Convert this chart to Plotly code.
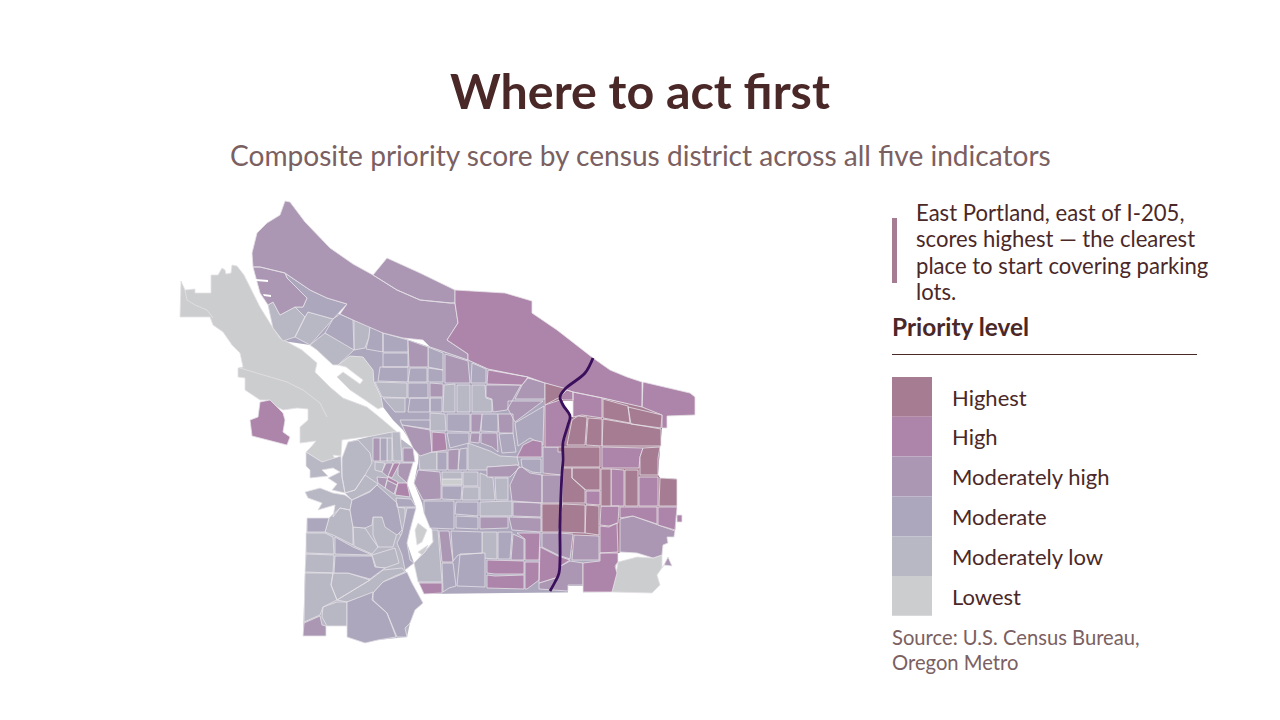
import plotly.graph_objects as go

# district outlines per priority level, in map units
LOWEST = [
    [(181,281),(185,290),(195,289),(195,293),(211,293),(211,275),(218,275),(222,268),(225,270),(226,274),(231,273),(232,265),(237,266),(244,275),(250,287),(260,307),(273,328),(280,338),(302,350),(317,363),(315,372),(330,387),(343,398),(367,407),(383,420),(397,432),(402,440),(392,432),(372,436),(342,440),(341,456),(333,455),(336,461),(322,462),(314,457),(306,452),(311,447),(316,441),(300,443),(300,427),(308,420),(308,409),(297,408),(283,410),(277,407),(270,400),(260,400),(245,390),(245,378),(238,377),(238,368),(243,367),(240,353),(232,345),(223,332),(213,325),(210,317),(180,317)],
    [(338,365),(350,356),(363,357),(373,370),(374,382),(381,397),(383,407),(378,409),(365,400),(350,390),(337,377),(343,372),(360,384),(363,380),(346,367)],
    [(442,479),(462,479),(462,485),(442,485)],
    [(418,523),(427,530),(422,542),(417,545),(415,530)],
    [(418,552),(428,545),(425,552),(422,555)],
    [(618,562),(637,557),(653,558),(662,555),(662,568),(664,565),(657,575),(660,585),(652,593),(612,592),(615,580)],
]
MOD_LOW = [
    [(273,302),(280,315),(295,307),(305,317),(295,337),(283,341),(273,328),(268,305)],
    [(305,317),(308,312),(333,319),(310,345),(295,337)],
    [(325,333),(353,347),(354,350),(338,365),(333,365),(317,350),(310,345)],
    [(354,320),(370,326),(369,337),(365,348),(354,350)],
    [(375,382),(407,383),(407,398),(382,397)],
    [(383,398),(405,398),(405,412),(395,412)],
    [(444,385),(455,384),(455,412),(443,412)],
    [(457,385),(470,385),(470,412),(457,412)],
    [(472,385),(485,385),(486,398),(492,400),(492,412),(472,412)],
    [(430,413),(445,414),(446,431),(430,431)],
    [(418,453),(437,452),(437,470),(420,470)],
    [(468,443),(490,451),(500,456),(517,457),(519,465),(487,467),(490,470),(468,470)],
    [(442,472),(462,472),(462,479),(442,479)],
    [(463,472),(478,472),(478,486),(463,486)],
    [(463,487),(479,487),(479,500),(462,500)],
    [(480,473),(493,478),(495,500),(480,500)],
    [(495,478),(508,478),(508,500),(496,500)],
    [(480,502),(512,501),(512,516),(480,516)],
    [(482,532),(497,532),(497,559),(482,558)],
    [(432,530),(438,530),(442,582),(418,582),(414,563),(425,552),(433,542)],
    [(348,442),(358,440),(370,453),(372,463),(365,475),(355,490),(345,493),(342,477),(342,458)],
    [(345,493),(355,490),(365,475),(378,484),(370,491),(352,500)],
    [(306,452),(314,457),(322,462),(341,456),(342,477),(345,493),(332,490),(337,484),(328,478),(340,472),(333,468),(322,470),(328,476),(310,478),(310,470),(306,466)],
    [(305,492),(320,488),(333,493),(345,495),(352,500),(350,510),(340,508),(333,517),(335,505),(318,510),(322,503),(308,498)],
    [(306,533),(325,533),(333,537),(334,554),(306,553)],
    [(306,554),(334,555),(333,573),(305,572)],
    [(305,573),(333,573),(331,585),(337,600),(323,607),(320,615),(304,622)],
    [(323,607),(337,602),(347,602),(347,626),(327,626),(322,617)],
    [(333,573),(348,573),(370,580),(348,593),(337,600),(331,585)],
    [(370,580),(383,570),(402,568),(405,572),(395,576),(383,582),(373,593),(347,602),(337,600)],
    [(329,518),(340,508),(350,510),(353,527),(353,545),(333,535),(325,532)],
    [(353,527),(365,528),(373,540),(378,547),(372,554),(354,546)],
    [(372,555),(395,548),(399,563),(385,568),(376,567)],
    [(373,517),(382,517),(387,527),(397,533),(393,547),(378,547),(373,535)],
    [(397,507),(405,508),(405,530),(402,537),(398,532),(395,515)],
    [(375,462),(385,463),(382,472),(375,470)],
    [(387,438),(392,438),(392,461),(387,461)],
    [(392,432),(400,432),(402,461),(393,461)],
]
MODERATE = [
    [(285,273),(310,290),(327,298),(347,304),(333,319),(308,312),(305,317),(295,307),(303,307),(307,298),(287,278)],
    [(340,314),(353,320),(354,350),(325,333),(333,319)],
    [(370,326),(383,333),(383,352),(366,349),(369,337)],
    [(383,333),(408,340),(408,352),(383,352)],
    [(383,353),(408,353),(408,367),(383,367)],
    [(380,367),(408,367),(408,382),(378,381)],
    [(410,368),(427,368),(427,382),(408,382)],
    [(428,347),(443,353),(443,370),(428,367)],
    [(428,368),(443,370),(443,382),(428,382)],
    [(408,383),(428,383),(428,398),(408,398)],
    [(410,398),(430,398),(430,412),(408,412)],
    [(430,398),(442,398),(442,412),(430,412)],
    [(400,420),(430,420),(430,429),(402,425)],
    [(472,363),(486,369),(486,383),(471,383)],
    [(447,414),(470,414),(470,432),(447,431)],
    [(482,414),(498,414),(498,432),(481,431)],
    [(447,433),(469,433),(469,443),(450,448)],
    [(499,434),(513,433),(516,452),(502,453)],
    [(515,423),(544,406),(543,445),(530,438),(518,446)],
    [(521,459),(541,459),(541,473),(532,472),(522,467)],
    [(437,452),(447,452),(447,470),(437,470)],
    [(460,449),(467,448),(467,470),(458,470)],
    [(442,486),(462,486),(461,500),(442,499)],
    [(424,501),(454,501),(454,529),(430,528),(424,513)],
    [(456,502),(478,502),(478,516),(455,514)],
    [(456,516),(478,517),(478,529),(456,528)],
    [(451,531),(482,532),(482,553),(458,555),(453,561)],
    [(460,554),(485,553),(485,587),(457,586)],
    [(442,563),(453,563),(456,586),(449,588),(443,592)],
    [(498,532),(512,532),(510,559),(498,559)],
    [(307,518),(329,518),(325,532),(307,532)],
    [(335,556),(372,556),(375,567),(385,568),(370,579),(348,573),(334,573)],
    [(335,537),(353,547),(372,555),(335,554)],
    [(347,602),(373,592),(373,600),(387,613),(396,637),(378,640),(365,643),(355,640),(347,637)],
    [(373,593),(383,582),(395,577),(407,572),(412,583),(423,603),(415,610),(410,623),(405,628),(407,637),(397,637),(387,613),(372,600)],
    [(352,500),(370,492),(377,485),(397,503),(402,530),(397,535),(385,527),(382,517),(373,517),(372,525),(365,528),(353,527),(350,510)],
    [(407,508),(416,508),(410,530),(407,543),(410,560),(414,563),(405,570),(402,555),(397,543),(402,533)],
    [(396,498),(411,499),(416,507),(397,507)],
    [(380,438),(387,438),(387,461),(380,461)],
]
MOD_HIGH = [
    [(285,201),(290,202),(305,222),(330,248),(353,264),(373,275),(397,290),(420,300),(450,303),(455,303),(458,323),(447,340),(468,354),(468,360),(430,347),(423,340),(403,338),(383,333),(353,320),(340,314),(347,304),(327,298),(310,290),(285,273),(260,267),(253,267),(252,253),(257,233),(267,223),(280,215)],
    [(373,275),(387,258),(420,273),(450,287),(455,290),(455,303),(450,303),(420,300),(397,290)],
    [(253,267),(260,267),(285,273),(287,278),(307,298),(303,307),(295,307),(280,315),(273,302),(268,305),(260,293)],
    [(408,340),(428,347),(428,367),(409,367)],
    [(430,383),(443,384),(443,397),(430,397)],
    [(445,354),(468,361),(470,383),(445,383)],
    [(486,385),(521,385),(507,410),(493,412),(492,399),(486,397)],
    [(528,378),(545,383),(545,399),(515,399),(522,385)],
    [(508,401),(543,401),(515,422),(508,409)],
    [(498,414),(513,414),(513,433),(499,433)],
    [(471,414),(482,414),(480,432),(471,432)],
    [(471,433),(480,433),(479,443),(470,442)],
    [(481,433),(497,433),(498,452),(492,447),(481,443)],
    [(543,447),(558,447),(558,452),(562,452),(561,475),(543,473)],
    [(542,475),(562,475),(562,503),(542,503)],
    [(510,485),(518,468),(522,467),(530,473),(542,475),(542,503),(512,501)],
    [(487,467),(517,465),(520,467),(510,477),(487,477)],
    [(513,502),(541,503),(541,517),(513,516)],
    [(480,517),(508,517),(508,528),(480,529)],
    [(509,517),(541,518),(541,532),(512,530)],
    [(513,534),(524,539),(524,560),(511,560)],
    [(620,519),(633,516),(675,531),(674,537),(667,537),(668,543),(663,545),(662,555),(653,558),(637,553),(620,552)],
    [(574,535),(599,536),(599,560),(572,560)],
    [(542,533),(559,533),(573,534),(570,559),(558,555),(542,547)],
    [(539,583),(558,577),(559,567),(570,561),(583,563),(583,585),(568,585),(568,591),(539,589)],
    [(664,565),(668,557),(672,566)],
    [(402,425),(430,430),(432,452),(420,456),(413,448)],
    [(418,470),(440,472),(441,485),(441,499),(423,500),(414,483)],
    [(448,450),(459,449),(458,470),(448,470)],
    [(439,531),(449,531),(453,562),(442,562)],
    [(304,623),(320,616),(322,625),(326,626),(326,636),(303,636)],
    [(373,438),(380,438),(380,461),(373,461)],
    [(403,448),(413,448),(415,462),(403,462)],
    [(386,463),(393,463),(388,477),(382,472)],
    [(398,463),(413,463),(407,483),(398,475)],
    [(377,477),(388,478),(385,488),(378,483)],
    [(387,480),(397,485),(394,494),(385,488)],
]
HIGH = [
    [(455,290),(505,293),(532,301),(532,313),(557,330),(593,358),(610,370),(627,377),(642,382),(642,407),(603,398),(573,392),(545,383),(528,377),(488,369),(468,360),(468,354),(447,340),(458,323),(455,303)],
    [(643,382),(690,393),(695,397),(695,415),(667,416),(667,428),(662,428),(662,415),(642,407)],
    [(488,370),(528,377),(522,385),(487,384)],
    [(567,390),(573,392),(573,400),(563,400),(560,397)],
    [(545,405),(560,400),(562,405),(570,415),(568,423),(563,447),(545,447)],
    [(573,392),(602,398),(602,418),(582,415),(573,417)],
    [(602,447),(643,448),(640,457),(639,468),(602,468)],
    [(586,491),(600,491),(600,505),(586,504)],
    [(611,469),(624,470),(624,506),(611,506)],
    [(639,477),(658,477),(658,506),(639,506)],
    [(601,506),(619,506),(618,523),(609,526),(600,525)],
    [(620,507),(657,507),(657,524),(633,516),(620,518)],
    [(658,507),(677,507),(675,530),(658,525)],
    [(677,515),(682,515),(682,522),(677,522)],
    [(600,526),(609,527),(617,523),(618,552),(600,553)],
    [(517,457),(523,445),(533,440),(542,442),(542,457)],
    [(517,533),(540,533),(539,560),(525,560),(525,539)],
    [(487,560),(524,561),(524,574),(495,574),(487,573)],
    [(487,575),(495,576),(524,575),(524,589),(487,588)],
    [(525,562),(539,562),(539,580),(527,589),(525,589)],
    [(540,547),(558,556),(570,560),(559,567),(558,577),(539,583)],
    [(583,563),(600,561),(600,553),(618,553),(618,562),(615,566),(617,573),(612,590),(612,592),(583,592)],
    [(432,432),(445,433),(447,450),(432,452)],
    [(419,583),(442,583),(442,593),(424,594)],
    [(394,463),(400,463),(392,478),(388,476)],
    [(388,477),(398,482),(397,485),(387,480)],
    [(398,483),(407,483),(410,497),(395,495)],
    [(260,402),(270,400),(277,407),(283,413),(285,420),(283,432),(290,437),(287,445),(252,436),(250,420),(258,417)],
]
HIGHEST = [
    [(545,383),(567,389),(560,397),(545,405)],
    [(603,399),(628,406),(630,423),(603,418)],
    [(628,407),(662,415),(661,428),(631,424)],
    [(572,420),(578,416),(587,417),(585,445),(567,445)],
    [(588,418),(602,419),(602,446),(586,445)],
    [(603,419),(630,424),(661,429),(661,446),(602,446)],
    [(563,447),(600,447),(600,467),(563,467)],
    [(643,448),(660,447),(658,458),(658,475),(640,475),(640,457)],
    [(563,468),(572,468),(572,478),(585,490),(585,503),(562,503)],
    [(572,468),(600,468),(600,490),(586,490),(572,478)],
    [(601,469),(611,469),(611,506),(601,506)],
    [(625,470),(638,470),(638,506),(625,506)],
    [(660,478),(677,479),(677,506),(659,506)],
    [(542,504),(562,504),(559,532),(542,532)],
    [(562,504),(585,505),(585,533),(559,532)],
    [(586,505),(599,506),(599,535),(585,533)],
]

# land under the districts, so the small slivers between them do not read as water
LAND_EAST = [(268,305),(273,302),(340,314),(353,320),(383,333),(403,338),(430,347),(468,360),(488,369),(545,383),(573,392),(642,407),(662,415),(662,428),(660,447),(658,475),(660,478),(677,479),(677,507),(675,531),(618,553),(612,592),(424,594),(419,583),(414,563),(433,542),(432,530),(424,513),(422,503),(414,483),(418,463),(418,453),(403,430),(393,420),(383,407),(381,397),(374,382),(373,370),(363,357),(350,356),(338,365),(333,365),(317,350),(310,345),(283,341),(273,328)]
LAND_WEST = [(307,518),(329,518),(340,508),(350,510),(352,500),(345,493),(342,477),(342,458),(348,442),(372,436),(392,432),(402,440),(413,448),(413,463),(407,483),(416,507),(407,543),(414,563),(405,570),(412,583),(423,603),(415,610),(410,623),(407,637),(378,640),(365,643),(347,637),(347,626),(326,626),(326,636),(303,636),(305,572)]
LAND_FAR_EAST = [(545,383),(573,392),(642,407),(662,415),(662,428),(660,447),(658,475),(660,478),(677,479),(677,507),(675,531),(618,553),(600,553),(542,547)]
POCKETS = [[(563,401),(573,401),(573,417),(571,417),(563,405)], [(568,586),(583,586),(583,593),(568,593)]]
DOCKS = [[(255,279),(268,280),(268,282),(256,281)], [(263,294),(271,295),(271,297),(264,296)]]

# I-205 and the thin lines inside the West Hills block
I205_X = [593,585,565,560,563,570,568,563,563,562,560,559,555,550]
I205_Y = [358,373,389,397,405,416,425,443,460,473,523,573,582,591]
HILLS_X = [240,287,303,320,327,None,185,187,195,207,213]
HILLS_Y = [368,382,390,403,417,None,290,300,305,310,318]

LEVELS = ["Highest", "High", "Moderately high", "Moderate", "Moderately low", "Lowest"]
COLORS = ["#a67c92", "#ae85aa", "#ab97b4", "#aca7bd", "#b8b8c5", "#cccdce"]
NOTE = ["East Portland, east of I-205,", "scores highest \u2014 the clearest",
        "place to start covering parking", "lots."]
SOURCE = ["Source: U.S. Census Bureau,", "Oregon Metro"]

DARK = "#4b2828"
MUTED = "#7b6061"
BORDER = "#e4e1e6"
FONT = "Lato"


def to_xy(polygons):
    xs, ys = [], []
    for poly in polygons:
        xs += [p[0] for p in poly] + [poly[0][0], None]
        ys += [p[1] for p in poly] + [poly[0][1], None]
    return xs, ys


def add_plain(polys, color):
    xs, ys = to_xy(polys)
    fig.add_trace(go.Scatter(x=xs, y=ys, mode="lines", fill="toself", fillcolor=color, line=dict(color=color, width=0), hoverinfo="skip"))


fig = go.Figure()

add_plain([LAND_EAST], COLORS[3])
add_plain([LAND_WEST], COLORS[4])
add_plain([LAND_FAR_EAST], COLORS[0])
add_plain(POCKETS, "white")

# low levels first so that the strong colours stay on top
for name, polys, color in zip(LEVELS[::-1], [LOWEST, MOD_LOW, MODERATE, MOD_HIGH, HIGH, HIGHEST], COLORS[::-1]):
    xs, ys = to_xy(polys)
    fig.add_trace(go.Scatter(
        x=xs, y=ys, mode="lines", name=name, fill="toself", fillcolor=color,
        line=dict(color=BORDER, width=0.8), hoverinfo="name"
    ))

add_plain(DOCKS, "white")
fig.add_trace(go.Scatter(x=HILLS_X, y=HILLS_Y, mode="lines", line=dict(color=BORDER, width=0.8), hoverinfo="skip"))
fig.add_trace(go.Scatter(x=I205_X, y=I205_Y, mode="lines", name="I-205", line=dict(color="#3a0f5c", width=2.8, shape="spline")))


def text(x, y, s, size, color=DARK, anchor="left", bold=False):
    fig.add_annotation(
        x=x, y=y, text=f"<b>{s}</b>" if bold else s, showarrow=False, xanchor=anchor, yanchor="middle",
        font=dict(family=FONT, size=size, color=color)
    )


text(640, 90, "Where to act first", 48.4, anchor="center", bold=True)
text(640, 155, "Composite priority score by census district across all five indicators", 28.1, MUTED, "center")

for i, line in enumerate(NOTE):
    text(914, 212 + i * 26.6, line, 22.1)
fig.add_shape(type="rect", x0=892, x1=897, y0=218, y1=283, fillcolor=COLORS[0], line_width=0)

text(890, 326, "Priority level", 24.4, bold=True)
fig.add_shape(type="line", x0=892, x1=1197, y0=354.5, y1=354.5, line=dict(color=DARK, width=1))

for i, (name, color) in enumerate(zip(LEVELS, COLORS)):
    fig.add_shape(type="rect", x0=892, x1=932, y0=377 + i * 39.8, y1=377 + (i + 1) * 39.8, fillcolor=color, line_width=0)
    text(950, 397 + i * 39.8, name, 22)

for i, line in enumerate(SOURCE):
    text(890, 637 + i * 24.5, line, 20.2, MUTED)

# the page keeps the browser's 8px body margin, so the axes start at 8
fig.update_xaxes(range=[8, 1272], visible=False)
fig.update_yaxes(range=[712, 8], visible=False)
fig.update_layout(
    width=1264, height=704, margin=dict(l=0, r=0, t=0, b=0), showlegend=False,
    paper_bgcolor="white", plot_bgcolor="white"
)

fig.write_html("out.html")
